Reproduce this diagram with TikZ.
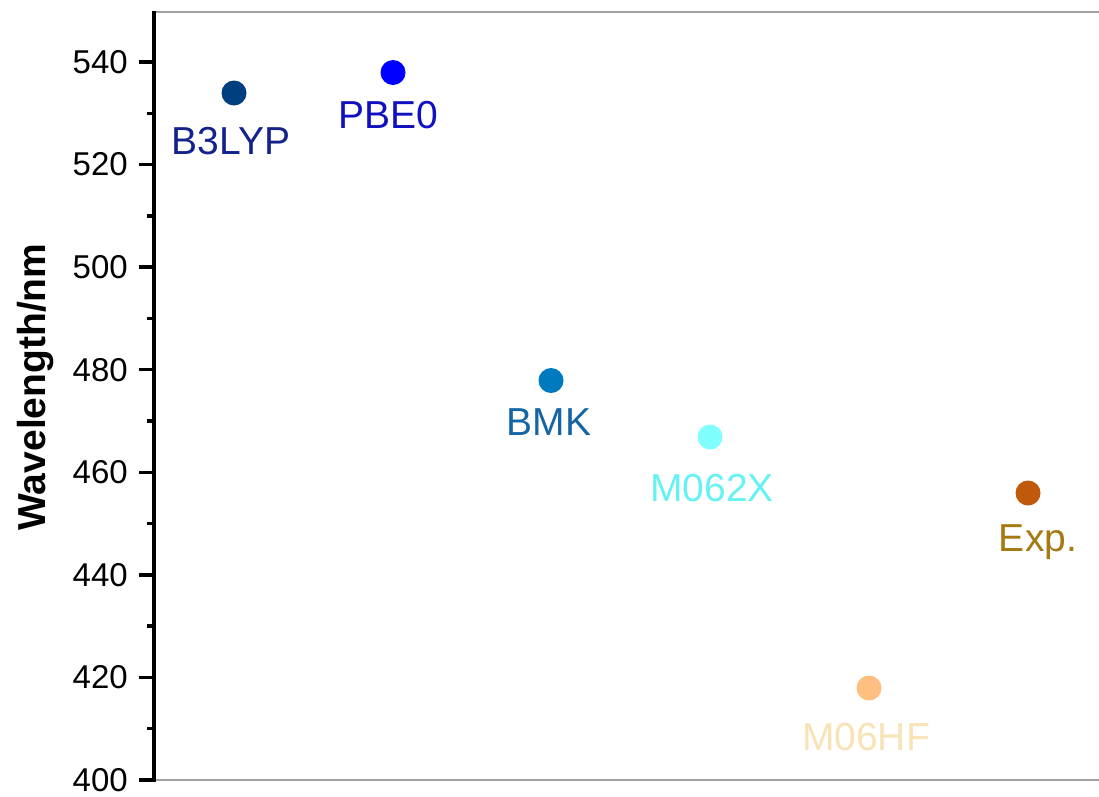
\documentclass[tikz,border=0pt]{standalone}
\usepackage{fontspec}
\setmainfont{Liberation Sans}
\definecolor{dB3}{HTML}{003F7F}\definecolor{lB3}{HTML}{14238C}
\definecolor{dPB}{HTML}{0000FF}\definecolor{lPB}{HTML}{1010C0}
\definecolor{dBM}{HTML}{007ABF}\definecolor{lBM}{HTML}{1565A5}
\definecolor{dM2}{HTML}{80FFFF}\definecolor{lM2}{HTML}{66F2F2}
\definecolor{dMH}{HTML}{FFBF80}\definecolor{lMH}{HTML}{F7E3B5}
\definecolor{dEx}{HTML}{C0590C}\definecolor{lEx}{HTML}{A57A12}
\definecolor{frameg}{HTML}{A0A0A0}
\begin{document}
\begin{tikzpicture}[x=1pt,y=-1pt,
  dot/.style={circle,inner sep=0pt,minimum size=25pt},
  lbl/.style={anchor=base,font=\fontsize{39}{39}\selectfont,inner sep=0pt},
  ticklbl/.style={anchor=east,font=\fontsize{33}{33}\selectfont,inner sep=0pt},
  axisline/.style={line width=3.5pt,black},
  thinframe/.style={line width=1.3pt,frameg}]
\useasboundingbox (0,0) rectangle (1099,796);
% frame
\coordinate (tl) at (154,12);
\coordinate (tr) at (1099,12);
\coordinate (bl) at (154,780);
\coordinate (br) at (1099,780);
\draw[thinframe] (tl) -- (tr);
\draw[thinframe] (bl) -- (br);
% ticks
\foreach \v in {400,420,...,540}{
  \pgfmathsetmacro\yy{780-(\v-400)*5.1286}
  \draw[axisline] (139,\yy) -- (154,\yy);
  \node[ticklbl] (t\v) at (128,\yy) {\v};
}
\foreach \v in {410,430,...,530}{
  \pgfmathsetmacro\yy{780-(\v-400)*5.1286}
  \draw[axisline] (147,\yy) -- (154,\yy);
}
\draw[axisline] (154,11) -- (154,781.7);
% axis title
\node[rotate=90,font=\fontsize{39}{39}\selectfont\bfseries,inner sep=0pt] (ytitle) at (36,387) {Wavelength/nm};
% data
\node[dot,fill=dB3] (b3) at (234,93) {};
\node[lbl,text=lB3] (b3l) at (231,154) {B3LYP};
\node[dot,fill=dPB] (pb) at (393,72.5) {};
\node[lbl,text=lPB] (pbl) at (388,128) {PBE0};
\node[dot,fill=dBM] (bm) at (551,380.5) {};
\node[lbl,text=lBM] (bml) at (549,435) {BMK};
\node[dot,fill=dM2] (m2) at (710,437) {};
\node[lbl,text=lM2] (m2l) at (712,501) {M062X};
\node[dot,fill=dMH] (mh) at (869,688) {};
\node[lbl,text=lMH] (mhl) at (866,750) {M06HF};
\node[dot,fill=dEx] (ex) at (1028,493) {};
\node[lbl,text=lEx] (exl) at (1038,551) {Exp.};
\end{tikzpicture}
\end{document}
